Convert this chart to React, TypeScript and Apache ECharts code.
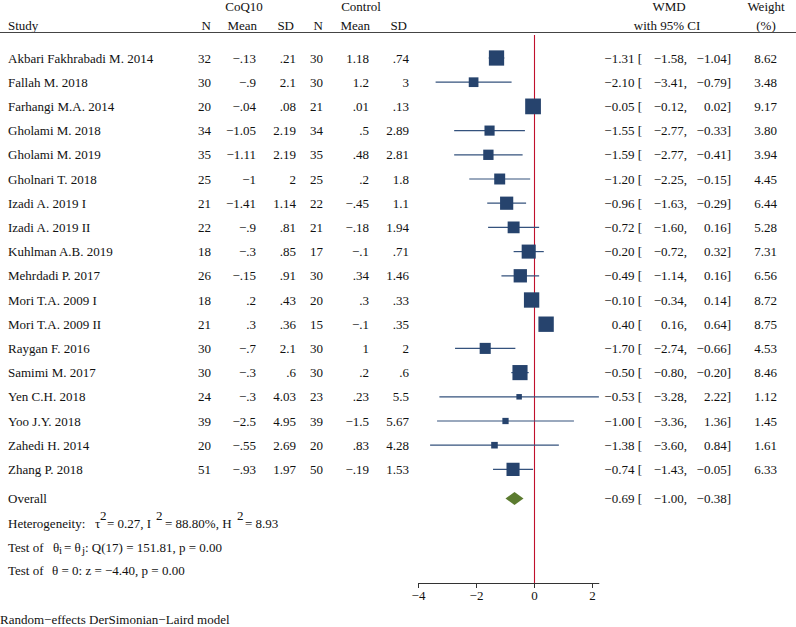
import React, { useEffect, useRef } from "react";
import * as echarts from "echarts";

// ---------------- data ----------------
const studies = [
  "Akbari Fakhrabadi M. 2014",
  "Fallah M. 2018",
  "Farhangi M.A. 2014",
  "Gholami M. 2018",
  "Gholami M. 2019",
  "Gholnari T. 2018",
  "Izadi A. 2019 I",
  "Izadi A. 2019 II",
  "Kuhlman A.B. 2019",
  "Mehrdadi P. 2017",
  "Mori T.A. 2009 I",
  "Mori T.A. 2009 II",
  "Raygan F. 2016",
  "Samimi M. 2017",
  "Yen C.H. 2018",
  "Yoo J.Y. 2018",
  "Zahedi H. 2014",
  "Zhang P. 2018",
];
const coqN = [32, 30, 20, 34, 35, 25, 21, 22, 18, 26, 18, 21, 30, 30, 24, 39, 20, 51];
const coqMean = [-0.13, -0.9, -0.04, -1.05, -1.11, -1, -1.41, -0.9, -0.3, -0.15, 0.2, 0.3, -0.7, -0.3, -0.3, -2.5, -0.55, -0.93];
const coqSD = [0.21, 2.1, 0.08, 2.19, 2.19, 2, 1.14, 0.81, 0.85, 0.91, 0.43, 0.36, 2.1, 0.6, 4.03, 4.95, 2.69, 1.97];
const ctlN = [30, 30, 21, 34, 35, 25, 22, 21, 17, 30, 20, 15, 30, 30, 23, 39, 20, 50];
const ctlMean = [1.18, 1.2, 0.01, 0.5, 0.48, 0.2, -0.45, -0.18, -0.1, 0.34, 0.3, -0.1, 1, 0.2, 0.23, -1.5, 0.83, -0.19];
const ctlSD = [0.74, 3, 0.13, 2.89, 2.81, 1.8, 1.1, 1.94, 0.71, 1.46, 0.33, 0.35, 2, 0.6, 5.5, 5.67, 4.28, 1.53];
const wmd = [-1.31, -2.1, -0.05, -1.55, -1.59, -1.2, -0.96, -0.72, -0.2, -0.49, -0.1, 0.4, -1.7, -0.5, -0.53, -1.0, -1.38, -0.74];
const ciLow = [-1.58, -3.41, -0.12, -2.77, -2.77, -2.25, -1.63, -1.6, -0.72, -1.14, -0.34, 0.16, -2.74, -0.8, -3.28, -3.36, -3.6, -1.43];
const ciHigh = [-1.04, -0.79, 0.02, -0.33, -0.41, -0.15, -0.29, 0.16, 0.32, 0.16, 0.14, 0.64, -0.66, -0.2, 2.22, 1.36, 0.84, -0.05];
const weights = [8.62, 3.48, 9.17, 3.8, 3.94, 4.45, 6.44, 5.28, 7.31, 6.56, 8.72, 8.75, 4.53, 8.46, 1.12, 1.45, 1.61, 6.33];
const overallEst = [-0.69, -1.0, -0.38]; // estimate, lower, upper
const xTicks = [-4, -2, 0, 2];

// ---------------- layout ----------------
const W = 796;
const H = 627;
const FONT_FAMILY = '"Liberation Serif", "Times New Roman", Times, serif';
const FS = 13;
const FONT = `${FS}px ${FONT_FAMILY}`;
const TXT = "#111";
const ROW0 = 58;
const ROWH = 24.2;
const OVERALL_ROW = 18.2;
const PLOT_TOP = 35;
const PLOT_BOTTOM = 583;
const PX_PER_UNIT = 29;
const X_MIN = -4;
const X_MAX = Math.max(...ciHigh);
const PLOT_LEFT = 418.5;
const rowAt = (px: number) => (px - ROW0) / ROWH;
const COLS = { n1: 211, mean1: 256, sd1: 296, n2: 323, mean2: 369, sd2: 409, est: 642, lo: 687, hi: 731, w: 777 };
const SQUARE_K = 5.2;

const minus = (s: string) => s.replace(/-/g, "\u2212");
const fmtStat = (v: number) => {
  let s = String(v);
  s = s.replace(/^(-?)0\./, "$1.");
  return minus(s);
};
const fmt2 = (v: number) => minus(v.toFixed(2));

const txt = (text: string, x: number, y: number, align = "left", extra: any = {}) => ({
  type: "text",
  x,
  y,
  silent: true,
  style: {
    text,
    fill: TXT,
    font: extra.font || FONT,
    align,
    textAlign: align,
    verticalAlign: "middle",
    textVerticalAlign: "middle",
  },
});

export default function App() {
  const ref = useRef<HTMLDivElement>(null);

  useEffect(() => {
    if (!ref.current) return;
    const chart = echarts.init(ref.current, undefined, { renderer: "svg", width: W, height: H });

    const forestData = studies.map((_, i) => [wmd[i], ciLow[i], ciHigh[i], weights[i], i]);
    const rowData = studies.map((_, i) => [0, i]);

    const headerY1 = 6;
    const headerY2 = 25;
    const subFont = `11px ${FONT_FAMILY}`;

    const graphics: any[] = [
      txt("CoQ10", 244, headerY1, "center"),
      txt("Control", 361, headerY1, "center"),
      txt("WMD", 669, headerY1, "center"),
      txt("Weight", 766, headerY1, "center"),
      txt("Study", 8, headerY2),
      txt("N", COLS.n1, headerY2, "right"),
      txt("Mean", 257, headerY2, "right"),
      txt("SD", 294, headerY2, "right"),
      txt("N", COLS.n2, headerY2, "right"),
      txt("Mean", 370, headerY2, "right"),
      txt("SD", 407, headerY2, "right"),
      txt("with 95% CI", 667, headerY2, "center"),
      txt("(%)", 766, headerY2, "center"),
      {
        type: "line",
        silent: true,
        shape: { x1: 0, y1: 32.5, x2: W, y2: 32.5 },
        style: { stroke: "#444", lineWidth: 1 },
      },
      // heterogeneity line
      txt("Heterogeneity:", 8, 523),
      txt("\u03c4", 95, 523),
      txt("2", 100, 515),
      txt("= 0.27, I", 107, 523),
      txt("2", 156, 515),
      txt("= 88.80%, H", 165, 523),
      txt("2", 237, 515),
      txt("= 8.93", 245, 523),
      // test of theta_i = theta_j
      txt("Test of", 8, 547),
      txt("\u03b8", 53, 547),
      txt("i", 59, 550, "left", { font: subFont }),
      txt("= \u03b8", 64, 547),
      txt("j", 82, 550, "left", { font: subFont }),
      txt(": Q(17) = 151.81, p = 0.00", 85, 547),
      // test of theta = 0
      txt("Test of", 8, 570),
      txt("\u03b8 = 0: z = \u22124.40, p = 0.00", 52, 570),
      txt("Random\u2212effects DerSimonian\u2212Laird model", 0, 619),
    ];

    const option: any = {
      animation: false,
      backgroundColor: "#fff",
      grid: [
        {
          left: PLOT_LEFT,
          top: PLOT_TOP,
          width: (X_MAX - X_MIN) * PX_PER_UNIT,
          height: PLOT_BOTTOM - PLOT_TOP,
          containLabel: false,
        },
        { left: 0, top: 0, width: W, height: H, containLabel: false },
      ],
      xAxis: [
        {
          type: "value",
          gridIndex: 0,
          min: X_MIN,
          max: X_MAX,
          splitLine: { show: false },
          axisLine: { show: true, onZero: false, lineStyle: { color: "#333", width: 1 } },
          axisTick: { show: true, customValues: xTicks, length: 5, lineStyle: { color: "#333", width: 1 } },
          axisLabel: {
            show: true,
            customValues: xTicks,
            margin: 6,
            color: TXT,
            fontSize: FS,
            fontFamily: FONT_FAMILY,
            formatter: (v: number) => minus(String(v)),
          },
        },
        { type: "value", gridIndex: 1, min: 0, max: W, show: false },
      ],
      yAxis: [
        {
          type: "value",
          gridIndex: 0,
          inverse: true,
          min: rowAt(PLOT_TOP),
          max: rowAt(PLOT_BOTTOM),
          show: false,
        },
        {
          type: "value",
          gridIndex: 1,
          inverse: true,
          min: rowAt(0),
          max: rowAt(H),
          show: false,
        },
      ],
      graphic: graphics,
      series: [
        {
          type: "line",
          xAxisIndex: 0,
          yAxisIndex: 0,
          data: [
            [0, rowAt(PLOT_TOP)],
            [0, rowAt(PLOT_BOTTOM)],
          ],
          symbol: "none",
          silent: true,
          lineStyle: { color: "#c0102c", width: 1.1 },
          z: 1,
        },
        {
          type: "custom",
          xAxisIndex: 0,
          yAxisIndex: 0,
          data: forestData,
          z: 3,
          renderItem: (params: any, api: any) => {
            const r = api.value(4);
            const pe = api.coord([api.value(0), r]);
            const pl = api.coord([api.value(1), r]);
            const ph = api.coord([api.value(2), r]);
            const s = SQUARE_K * Math.sqrt(api.value(3));
            return {
              type: "group",
              children: [
                {
                  type: "line",
                  shape: { x1: pl[0], y1: pl[1], x2: ph[0], y2: ph[1] },
                  style: { stroke: "#34527d", lineWidth: 1.2 },
                },
                {
                  type: "rect",
                  shape: { x: pe[0] - s / 2, y: pe[1] - s / 2, width: s, height: s },
                  style: { fill: "#26436d" },
                },
              ],
            };
          },
        },
        {
          type: "custom",
          xAxisIndex: 0,
          yAxisIndex: 0,
          data: [[overallEst[0], overallEst[1], overallEst[2], OVERALL_ROW]],
          z: 3,
          renderItem: (params: any, api: any) => {
            const r = api.value(3);
            const pe = api.coord([api.value(0), r]);
            const pl = api.coord([api.value(1), r]);
            const ph = api.coord([api.value(2), r]);
            const hh = 6.5;
            return {
              type: "polygon",
              shape: {
                points: [
                  [pl[0], pe[1]],
                  [pe[0], pe[1] - hh],
                  [ph[0], pe[1]],
                  [pe[0], pe[1] + hh],
                ],
              },
              style: { fill: "#5b7b2f" },
            };
          },
        },
        {
          type: "custom",
          xAxisIndex: 1,
          yAxisIndex: 1,
          data: rowData,
          silent: true,
          renderItem: (params: any, api: any) => {
            const i = api.value(1);
            const y = api.coord([0, i])[1];
            return {
              type: "group",
              children: [
                txt(studies[i], 8, y),
                txt(fmtStat(coqN[i]), COLS.n1, y, "right"),
                txt(fmtStat(coqMean[i]), COLS.mean1, y, "right"),
                txt(fmtStat(coqSD[i]), COLS.sd1, y, "right"),
                txt(fmtStat(ctlN[i]), COLS.n2, y, "right"),
                txt(fmtStat(ctlMean[i]), COLS.mean2, y, "right"),
                txt(fmtStat(ctlSD[i]), COLS.sd2, y, "right"),
                txt(`${fmt2(wmd[i])} [`, COLS.est, y, "right"),
                txt(`${fmt2(ciLow[i])},`, COLS.lo, y, "right"),
                txt(`${fmt2(ciHigh[i])}]`, COLS.hi, y, "right"),
                txt(weights[i].toFixed(2), COLS.w, y, "right"),
              ],
            };
          },
        },
        {
          type: "custom",
          xAxisIndex: 1,
          yAxisIndex: 1,
          data: [[0, OVERALL_ROW]],
          silent: true,
          renderItem: (params: any, api: any) => {
            const y = api.coord([0, api.value(1)])[1];
            return {
              type: "group",
              children: [
                txt("Overall", 8, y),
                txt(`${fmt2(overallEst[0])} [`, COLS.est, y, "right"),
                txt(`${fmt2(overallEst[1])},`, COLS.lo, y, "right"),
                txt(`${fmt2(overallEst[2])}]`, COLS.hi, y, "right"),
              ],
            };
          },
        },
      ],
    };

    chart.setOption(option);
    return () => chart.dispose();
  }, []);

  return (
    <div
      ref={ref}
      style={{ position: "fixed", left: 0, top: 0, width: W, height: H, background: "#fff" }}
    />
  );
}
